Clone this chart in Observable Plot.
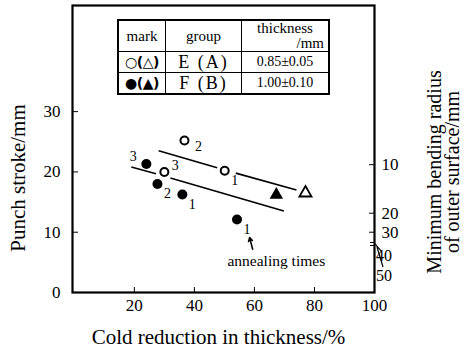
<!DOCTYPE html>
<html><head><meta charset="utf-8">
<script src="https://cdn.jsdelivr.net/npm/d3@7"></script>
<script src="https://cdn.jsdelivr.net/npm/@observablehq/plot@0.6"></script>
<style>
body{margin:0;background:#fff;}
#wrap{position:relative;width:465px;height:356px;font-family:"Liberation Serif",serif;color:#000;}
#legend{position:absolute;left:117px;top:19px;border-collapse:collapse;border:2px solid #000;background:#fff;font-family:"Liberation Serif",serif;}
#legend td{border:1.5px solid #000;padding:0;text-align:center;line-height:1;}
#legend tr.h td{height:30px;font-size:15px;}
#legend tr.r td{height:20px;}
#legend td.sym{font-family:"DejaVu Sans",sans-serif;font-weight:bold;font-size:14px;letter-spacing:-0.5px;}
#legend td.grp{font-size:18px;letter-spacing:2px;}
#legend td.val{font-size:14px;}
#legend .mm{text-align:right;padding-right:4px;}
</style></head><body><div id="wrap"></div>
<script>
// ---- data ----
const xTicks = [20, 40, 60, 80, 100];
const yTicks = [0, 10, 20, 30];
const radiusLabels = [10, 20, 30, 40, 50];
const radiusAtStroke = [21.2, 13.15, 10.0, 8.3, 7.8];

const openCircleX = [36.7, 30.0, 50.1];
const openCircleY = [25.2, 20.0, 20.2];
const openCircleLabel = ["2", "3", "1"];
const openCirclePos = ["e", "ne", "se"];

const filledCircleX = [24.0, 27.7, 36.0, 54.2];
const filledCircleY = [21.3, 18.0, 16.25, 12.1];
const filledCircleLabel = ["3", "2", "1", "1"];
const filledCirclePos = ["nw", "se", "se", "se"];

const openTriangleX = [77.0];
const openTriangleY = [16.5];
const filledTriangleX = [67.3];
const filledTriangleY = [16.2];

const upperLineX1 = [28.1, 53.8], upperLineY1 = [23.5, 19.8];
const upperLineX2 = [47.6, 74.0], upperLineY2 = [20.7, 17.0];
const lowerLineX1 = [19.0, 32.0], lowerLineY1 = [20.8, 19.0];
const lowerLineX2 = [27.2, 69.8], lowerLineY2 = [19.7, 13.5];

const noteText = ["annealing times"];
const noteX = [67.3], noteY = [5.3];
const arrowFromX = [59.4], arrowFromY = [7.2];
const arrowToX = [58.4], arrowToY = [9.1];

const legendMarks = ["○(△)", "●(▲)"];
const legendGroups = ["E (A)", "F (B)"];
const legendThickness = ["0.85±0.05", "1.00±0.10"];

// ---- build ----
const pts = (X, Y, L, P) => X.map((x, i) => ({x, y: Y[i], label: L ? L[i] : null, pos: P ? P[i] : null}));
const segs = (X1, Y1, X2, Y2) => X1.map((x1, i) => ({x1, y1: Y1[i], x2: X2[i], y2: Y2[i]}));
const openPts = pts(openCircleX, openCircleY, openCircleLabel, openCirclePos);
const filledPts = pts(filledCircleX, filledCircleY, filledCircleLabel, filledCirclePos);
const allLabeled = openPts.concat(filledPts);
const offsets = {e: [14, 6], ne: [11, -6], se: [10, 10], nw: [-13, -8]};
const labelMarks = Object.entries(offsets).map(([k, [dx, dy]]) =>
  Plot.text(allLabeled.filter(d => d.pos === k), {x: "x", y: "y", text: "label", dx, dy, fontSize: 14}));

const radiusExtra = (index, scales, values, dims) => {
  const g = d3.create("svg:g").attr("font-size", 16);
  const xr = dims.width - dims.marginRight;
  const spec = [[3, 13, [1, 2, 7, 9]], [4, 30, [3, 2, 9, 22]]];
  for (const [i, dy, l] of spec) {
    const y = scales.y(radiusAtStroke[i]);
    g.append("line").attr("x1", xr + l[0]).attr("y1", y + l[1]).attr("x2", xr + l[2]).attr("y2", y + l[3])
      .attr("stroke", "black").attr("stroke-width", 1.2);
    g.append("text").attr("x", xr + 10).attr("y", y + dy).attr("dy", "0.35em").text(radiusLabels[i]);
  }
  return g.node();
};

const chart = Plot.plot({
  width: 465, height: 356,
  marginLeft: 72, marginRight: 91, marginTop: 5, marginBottom: 64,
  style: {fontFamily: "Liberation Serif, serif", fontSize: "17px", color: "black", background: "white"},
  x: {domain: [-0.6, 100]},
  y: {domain: [0, 47.6]},
  marks: [
    Plot.frame({strokeWidth: 2.2}),
    Plot.axisX(xTicks, {tickSize: -5, tickPadding: 11, label: null, fontSize: 17}),
    Plot.axisY(yTicks, {anchor: "left", tickSize: -6, tickPadding: 18, label: null, fontSize: 17}),
    Plot.axisY(radiusAtStroke.slice(0, 3), {anchor: "right", tickSize: -6, tickPadding: 13, label: null, fontSize: 17,
      tickFormat: d => String(radiusLabels[radiusAtStroke.indexOf(d)])}),
    Plot.axisY(radiusAtStroke.slice(3), {anchor: "right", tickSize: -5, tickPadding: 14, label: null, tickFormat: () => ""}),
    radiusExtra,
    Plot.link(segs(upperLineX1, upperLineY1, upperLineX2, upperLineY2), {x1: "x1", y1: "y1", x2: "x2", y2: "y2", stroke: "black", strokeWidth: 1.6}),
    Plot.link(segs(lowerLineX1, lowerLineY1, lowerLineX2, lowerLineY2), {x1: "x1", y1: "y1", x2: "x2", y2: "y2", stroke: "black", strokeWidth: 1.6}),
    Plot.dot(openPts, {x: "x", y: "y", r: 4, stroke: "black", strokeWidth: 2, fill: "white"}),
    Plot.dot(filledPts, {x: "x", y: "y", r: 5, fill: "black"}),
    Plot.dot(pts(openTriangleX, openTriangleY), {x: "x", y: "y", symbol: "triangle", r: 4.5, stroke: "black", strokeWidth: 1.8, fill: "white"}),
    Plot.dot(pts(filledTriangleX, filledTriangleY), {x: "x", y: "y", symbol: "triangle", r: 5, fill: "black"}),
    ...labelMarks,
    Plot.arrow(arrowFromX.map((x, i) => ({x1: x, y1: arrowFromY[i], x2: arrowToX[i], y2: arrowToY[i]})),
      {x1: "x1", y1: "y1", x2: "x2", y2: "y2", stroke: "black", strokeWidth: 1.6, headLength: 7, insetEnd: 0}),
    Plot.text(noteX.map((x, i) => ({x, y: noteY[i], t: noteText[i]})), {x: "x", y: "y", text: "t", fontSize: 15.5}),
    Plot.text(["Cold reduction in thickness/%"], {frameAnchor: "bottom", textAnchor: "middle", dx: -5, dy: 51, fontSize: 21}),
    Plot.text(["Punch stroke/mm"], {frameAnchor: "left", textAnchor: "middle", rotate: -90, dx: -54, dy: 29, fontSize: 21}),
    Plot.text(["Minimum bending radius\nof outer surface/mm"], {frameAnchor: "right", textAnchor: "middle", rotate: -90, dx: 70, dy: 23, fontSize: 20, lineHeight: 0.9})
  ]
});

const wrap = document.getElementById("wrap");
wrap.appendChild(chart);

// legend table
const table = document.createElement("table");
table.id = "legend";
const head = document.createElement("tr");
head.className = "h";
head.innerHTML = `<td style="width:46px">mark</td><td style="width:75px">group</td><td style="width:86px"><div>thickness</div><div class="mm">/mm</div></td>`;
table.appendChild(head);
legendMarks.forEach((m, i) => {
  const tr = document.createElement("tr");
  tr.className = "r";
  const a = document.createElement("td"); a.className = "sym"; a.textContent = m;
  const b = document.createElement("td"); b.className = "grp"; b.textContent = legendGroups[i];
  const c = document.createElement("td"); c.className = "val"; c.textContent = legendThickness[i];
  tr.append(a, b, c);
  table.appendChild(tr);
});
wrap.appendChild(table);
</script></body></html>
